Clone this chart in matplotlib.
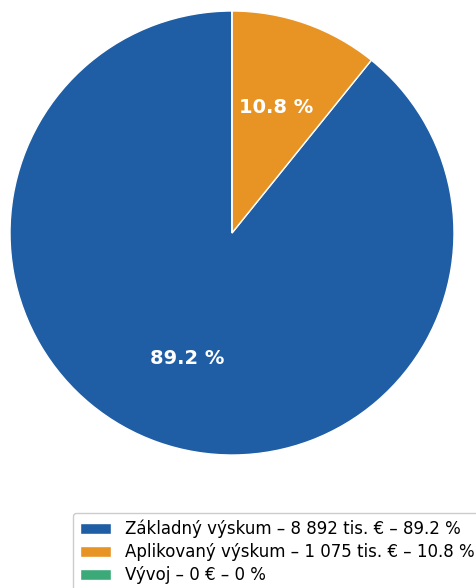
import matplotlib
matplotlib.use('Agg')
import matplotlib.pyplot as plt

# data
labels = ['Základný výskum', 'Aplikovaný výskum', 'Vývoj']
amounts = ['8 892 tis. €', '1 075 tis. €', '0 €']
shares = [89.2, 10.8, 0.0]
colors = ['#1f5ea5', '#e89425', '#3caa78']

fig = plt.figure(figsize=(4.76, 5.88), dpi=100)
ax = fig.add_axes([10 / 476, 133 / 588, 444 / 476, 444 / 588])


def fmt_pct(p):
    # hide label for empty slices
    if p < 0.05:
        return ''
    return f'{p:.1f} %'


wedges, texts, autotexts = ax.pie(
    shares, colors=colors, startangle=90, autopct=fmt_pct, pctdistance=0.6,
    wedgeprops=dict(edgecolor='white', linewidth=1),
    textprops=dict(color='white', fontsize=14, fontweight='bold'))
ax.set_xlim(-1, 1)
ax.set_ylim(-1, 1)
ax.set_aspect('equal')

legend_labels = [f'{l} – {a} – {s:g} %' for l, a, s in zip(labels, amounts, shares)]
fig.legend(wedges, legend_labels, loc='upper left',
           bbox_to_anchor=(73 / 476, 1 - 513 / 588), borderaxespad=0,
           fontsize=12, labelspacing=0.3, handlelength=1.9, handleheight=0.6,
           frameon=True, edgecolor='#cccccc', framealpha=1)

fig.savefig('out.png', dpi=100)
